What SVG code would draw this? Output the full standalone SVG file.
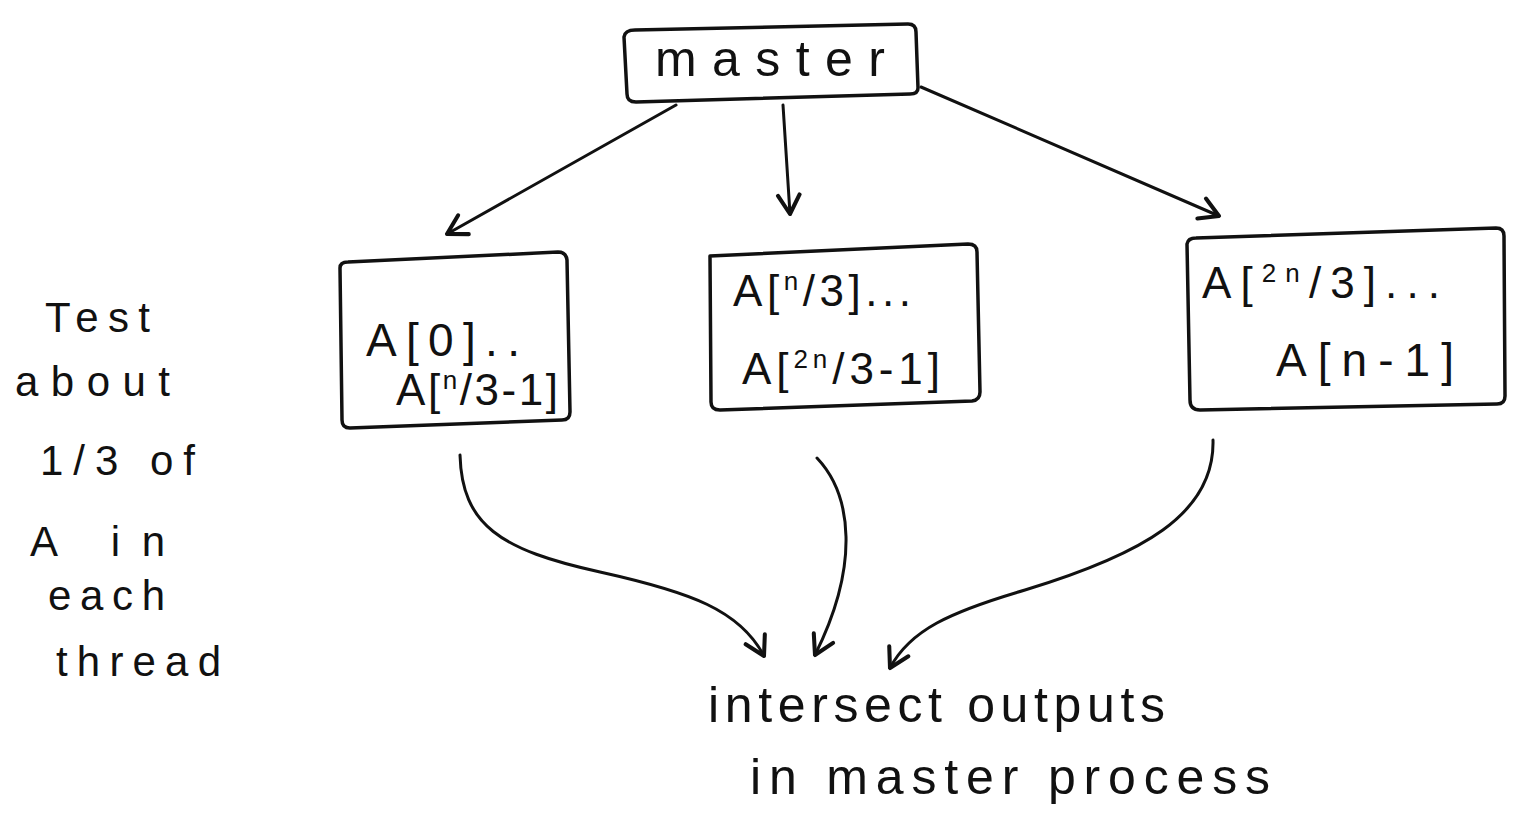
<svg xmlns="http://www.w3.org/2000/svg" width="1514" height="829" viewBox="0 0 1514 829">
<defs>
<style>
.box{fill:none;stroke:#111;stroke-width:3.5;stroke-linejoin:round}
.con{fill:none;stroke:#111;stroke-width:3;stroke-linecap:round}
.t{font-family:"Liberation Sans",Arial,sans-serif;fill:#111}
.sup{font-size:26px}
</style>
<marker id="ah" viewBox="0 0 20 20" refX="16" refY="10" markerWidth="9" markerHeight="9" markerUnits="strokeWidth" orient="auto">
<path d="M2,2 L16,10 L2,18" fill="none" stroke="#111" stroke-width="3" stroke-linecap="round" stroke-linejoin="round"/>
</marker>
</defs>
<rect width="1514" height="829" fill="#fff"/>
<g id="connectors">
<path class="con" d="M676,105 L447,234" marker-end="url(#ah)"/>
<path class="con" d="M783,105 L790,214" marker-end="url(#ah)"/>
<path class="con" d="M921,87 L1219,216" marker-end="url(#ah)"/>
<path class="con" d="M460,455 C462,525 500,550 600,572 C690,592 740,610 764,656" marker-end="url(#ah)"/>
<path class="con" d="M817,458 C852,495 860,565 815,655" marker-end="url(#ah)"/>
<path class="con" d="M1213,440 C1215,515 1140,555 1025,590 C950,612 910,630 890,668" marker-end="url(#ah)"/>
</g>
<g id="master">
<path class="box" d="M624,37 Q625,30 635,30 L908,24 Q916,24 916,32 L918,88 Q918,94 910,94 L636,102 Q627,102 627,94 Z"/>
<text class="t" x="655" y="76" font-size="50" textLength="230" lengthAdjust="spacing">master</text>
</g>
<g id="part1">
<path class="box" d="M340,268 Q340,262 348,262 L558,252 Q566,252 567,260 L570,412 Q570,420 562,420 L350,428 Q342,428 342,420 Z"/>
<text class="t" x="366" y="356" font-size="46" textLength="154" lengthAdjust="spacing">A[0]..</text>
<text class="t" x="396" y="405" font-size="44" textLength="162" lengthAdjust="spacing">A[<tspan class="sup" dy="-16">n</tspan><tspan dy="16">/3-1]</tspan></text>
</g>
<g id="part2">
<path class="box" d="M710,256 L968,244 Q977,244 977,252 L980,392 Q980,400 972,401 L720,410 Q711,410 711,402 Z"/>
<text class="t" x="733" y="306" font-size="44" textLength="178" lengthAdjust="spacing">A[<tspan class="sup" dy="-16">n</tspan><tspan dy="16">/3]...</tspan></text>
<text class="t" x="742" y="384" font-size="44" textLength="198" lengthAdjust="spacing">A[<tspan class="sup" dy="-16">2n</tspan><tspan dy="16">/3-1]</tspan></text>
</g>
<g id="part3">
<path class="box" d="M1187,244 Q1188,238 1196,238 L1496,228 Q1504,228 1504,236 L1505,396 Q1505,404 1497,404 L1200,410 Q1190,410 1190,400 Z"/>
<text class="t" x="1202" y="298" font-size="44" textLength="238" lengthAdjust="spacing">A[<tspan class="sup" dy="-16">2n</tspan><tspan dy="16">/3]...</tspan></text>
<text class="t" x="1276" y="376" font-size="46" textLength="178" lengthAdjust="spacing">A[n-1]</text>
</g>
<g id="note">
<text class="t" font-size="42" x="45" y="332" textLength="105" lengthAdjust="spacing">Test</text>
<text class="t" font-size="42" x="15" y="396" textLength="155" lengthAdjust="spacing">about</text>
<text class="t" font-size="42" x="40" y="475" textLength="155" lengthAdjust="spacing">1/3 of</text>
<text class="t" font-size="42" x="30" y="556" textLength="135" lengthAdjust="spacing">A in</text>
<text class="t" font-size="42" x="48" y="610" textLength="117" lengthAdjust="spacing">each</text>
<text class="t" font-size="42" x="56" y="676" textLength="165" lengthAdjust="spacing">thread</text>
</g>
<g id="result">
<text class="t" font-size="50" x="708" y="722" textLength="457" lengthAdjust="spacing">intersect outputs</text>
<text class="t" font-size="50" x="750" y="794" textLength="520" lengthAdjust="spacing">in master process</text>
</g>
</svg>
